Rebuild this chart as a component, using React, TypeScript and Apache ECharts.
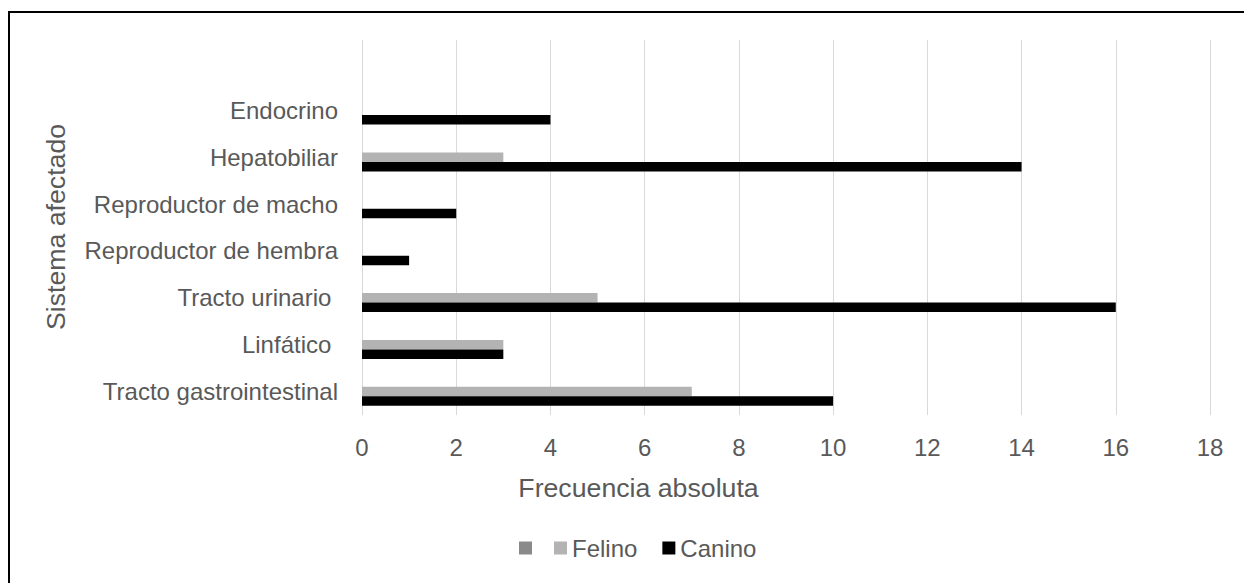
import React, { useEffect, useRef } from "react";
import * as echarts from "echarts";

// Affected organ systems, bottom to top (top slot left blank)
const categories = [
  "Tracto gastrointestinal",
  "Linfático ",
  "Tracto urinario ",
  "Reproductor de hembra",
  "Reproductor de macho",
  "Hepatobiliar",
  "Endocrino",
  "",
];
const canino = [10, 3, 16, 1, 2, 14, 4, null];
const felino = [7, 3, 5, null, null, 3, null, null];
const otro: (number | null)[] = [null, null, null, null, null, null, null, null];
const xTicks = { min: 0, max: 18, interval: 2 };

const FONT = "'Liberation Sans', Arial, sans-serif";
const TEXT = "#595959";

export default function App() {
  const ref = useRef<HTMLDivElement>(null);

  useEffect(() => {
    if (!ref.current) return;
    const chart = echarts.init(ref.current, undefined, { renderer: "svg" });
    chart.setOption({
      animation: false,
      backgroundColor: "#ffffff",
      textStyle: { fontFamily: FONT },
      grid: { left: 362, right: 34, top: 40, bottom: 168, containLabel: false },
      xAxis: {
        type: "value",
        min: xTicks.min,
        max: xTicks.max,
        interval: xTicks.interval,
        axisLine: { show: false },
        axisTick: { show: false },
        splitLine: { show: true, lineStyle: { color: "#d9d9d9", width: 1 } },
        axisLabel: { color: TEXT, fontSize: 24, fontFamily: FONT, margin: 20 },
      },
      yAxis: {
        type: "category",
        data: categories,
        axisLine: { show: false },
        axisTick: { show: false },
        splitLine: { show: false },
        axisLabel: { color: TEXT, fontSize: 24, fontFamily: FONT, margin: 24, interval: 0 },
      },
      legend: [
        {
          left: 514,
          top: 531,
          itemWidth: 13,
          itemHeight: 13,
          icon: "rect",
          data: [" "],
          textStyle: { color: TEXT, fontSize: 24, fontFamily: FONT },
        },
        {
          left: 549,
          top: 531,
          itemWidth: 13,
          itemHeight: 13,
          itemGap: 25,
          icon: "rect",
          data: ["Felino", "Canino"],
          textStyle: { color: TEXT, fontSize: 24, fontFamily: FONT },
        },
      ],
      // slot order within a band runs top to bottom: blank, Felino, Canino
      series: [
        {
          name: " ",
          type: "bar",
          data: otro,
          barWidth: 9.5,
          barGap: "0%",
          itemStyle: { color: "#8a8a8a" },
        },
        {
          name: "Felino",
          type: "bar",
          data: felino,
          barWidth: 9.5,
          barGap: "0%",
          itemStyle: { color: "#b3b3b3" },
        },
        {
          name: "Canino",
          type: "bar",
          data: canino,
          barWidth: 9.5,
          barGap: "0%",
          itemStyle: { color: "#000000" },
        },
      ],
      graphic: [
        {
          type: "rect",
          silent: true,
          shape: { x: 9, y: 12, width: 1400, height: 800 },
          style: { fill: "none", stroke: "#000000", lineWidth: 2 },
        },
        {
          type: "text",
          x: 638.5,
          y: 488,
          style: {
            text: "Frecuencia absoluta",
            fill: TEXT,
            font: `26.7px ${FONT}`,
            align: "center",
            verticalAlign: "middle",
          },
        },
        {
          type: "text",
          x: 56,
          y: 227,
          rotation: Math.PI / 2,
          style: {
            text: "Sistema afectado",
            fill: TEXT,
            font: `26.7px ${FONT}`,
            align: "center",
            verticalAlign: "middle",
          },
        },
      ],
    });
    return () => chart.dispose();
  }, []);

  return (
    <div
      ref={ref}
      style={{ position: "fixed", left: 0, top: 0, width: 1244, height: 583 }}
    />
  );
}
